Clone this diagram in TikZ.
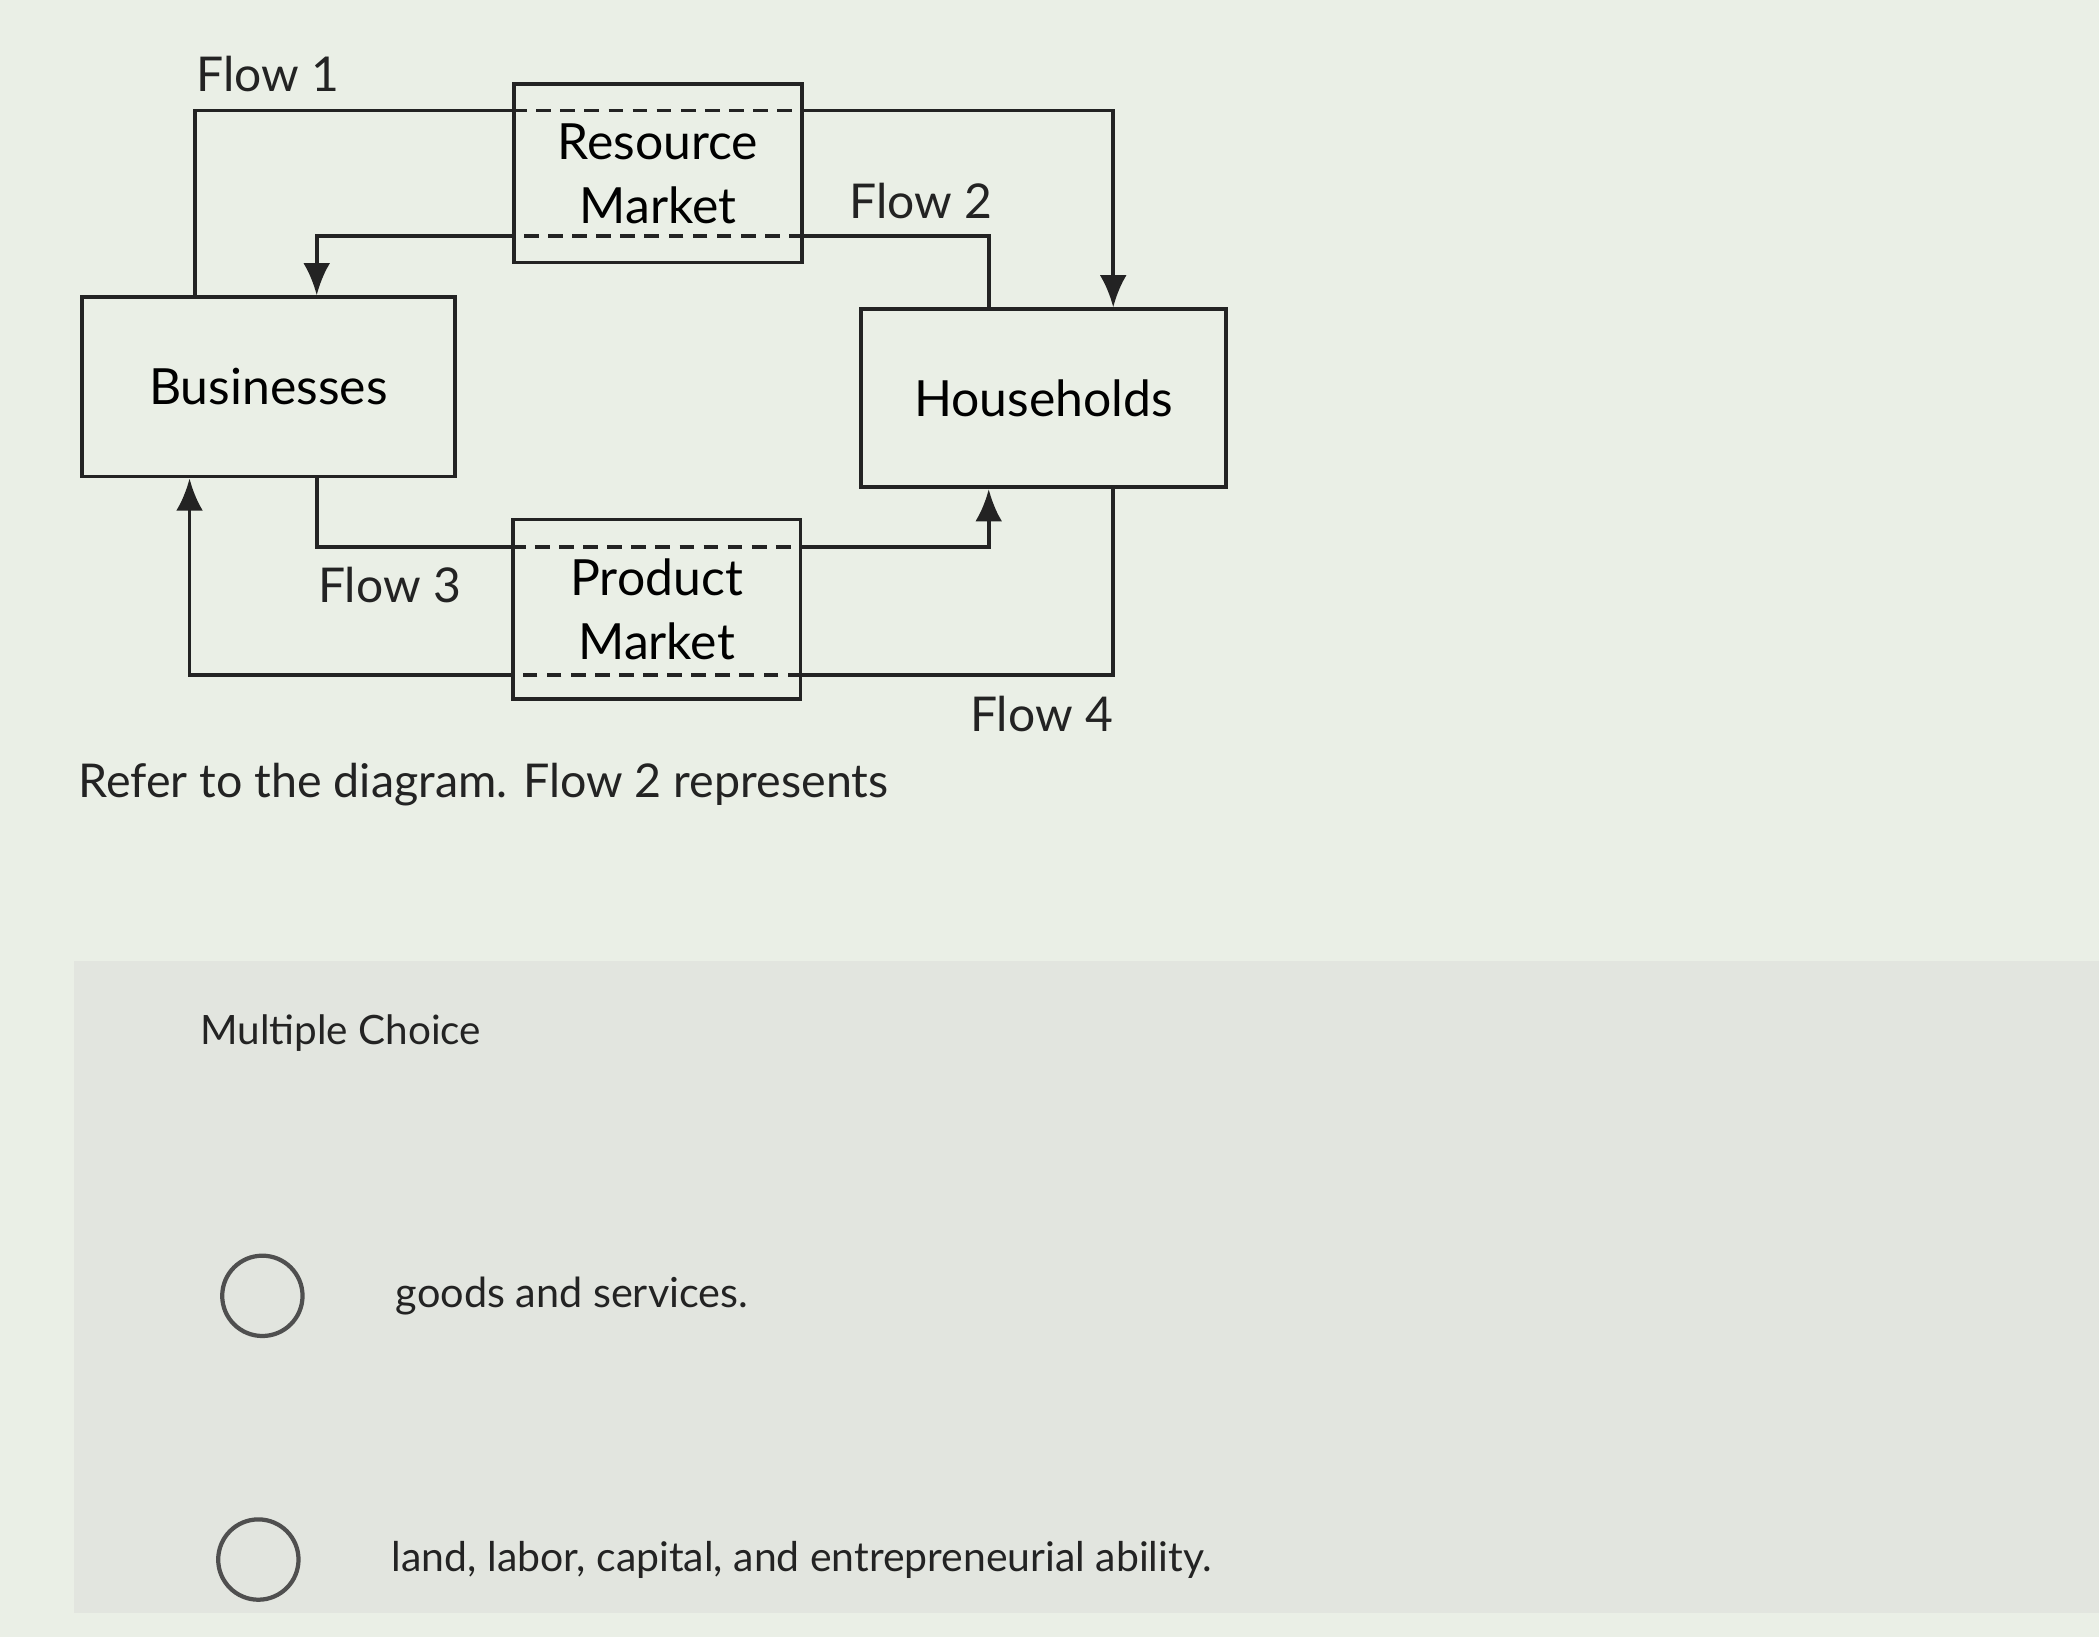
\documentclass[tikz,border=0pt]{standalone}
\usepackage{fontspec}
\setmainfont{Lato}
\usetikzlibrary{arrows,arrows.meta}
\usetikzlibrary{calc}
\definecolor{screen}{RGB}{234,239,230}
\definecolor{panel}{RGB}{226,229,223}
\definecolor{ink}{RGB}{35,35,35}

\tikzset{
    box/.style={draw=ink, line width=0.8pt, fill=none, font=\fontsize{10.6}{12.6}\selectfont, align=center},
    flow/.style={draw=ink, line width=0.8pt},
    flowarrow/.style={flow, -{Latex[length=2.4mm,width=2mm]}},
    inside/.style={draw=ink, line width=0.8pt, dash pattern=on 1.1mm off 0.7mm},
    flowlabel/.style={font=\fontsize{10.2}{12}\selectfont, text=ink},
    radio/.style={circle, draw=ink!80, line width=0.9pt, minimum size=0.6cm, inner sep=0pt},
    plain/.style={anchor=west, inner sep=0pt, text=ink}
}

\begin{document}
\begin{tikzpicture}

    % screen
    \fill[screen] (0,0) rectangle (15.68,-12.23);
    \fill[panel] (0.55,-7.18) rectangle (15.68,-12.05);
    \useasboundingbox (0,0) rectangle (15.68,-12.23);

    % the four boxes
    \node[box, minimum width=2.79cm, minimum height=1.34cm] (bus) at (2.005,-2.89) {Businesses};
    \node[box, minimum width=2.73cm, minimum height=1.33cm] (hh) at (7.795,-2.975) {Households};
    \node[box, minimum width=2.15cm, minimum height=1.33cm] (rm) at (4.915,-1.295) {Resource\\[1pt]Market};
    \node[box, minimum width=2.15cm, minimum height=1.34cm] (pm) at (4.905,-4.55) {Product\\[1pt]Market};

    % flow 1
    \draw[flow] ([xshift=0.86cm]bus.north west) |- ([yshift=-0.21cm]rm.north west);
    \draw[inside] ([yshift=-0.21cm]rm.north west) -- ([yshift=-0.21cm]rm.north east);
    \draw[flowarrow] ([yshift=-0.21cm]rm.north east) -| ([xshift=1.9cm]hh.north west);
    % flow 2
    \draw[flow] ([xshift=0.97cm]hh.north west) |- ([yshift=0.21cm]rm.south east);
    \draw[inside] ([yshift=0.21cm]rm.south east) -- ([yshift=0.21cm]rm.south west);
    \draw[flowarrow] ([yshift=0.21cm]rm.south west) -| ([xshift=1.77cm]bus.north west);
    % flow 3
    \draw[flow] ([xshift=1.77cm]bus.south west) |- ([yshift=-0.22cm]pm.north west);
    \draw[inside] ([yshift=-0.22cm]pm.north west) -- ([yshift=-0.22cm]pm.north east);
    \draw[flowarrow] ([yshift=-0.22cm]pm.north east) -| ([xshift=0.97cm]hh.south west);
    % flow 4
    \draw[flow] ([xshift=1.9cm]hh.south west) |- ([yshift=0.19cm]pm.south east);
    \draw[inside] ([yshift=0.19cm]pm.south east) -- ([yshift=0.19cm]pm.south west);
    \draw[flowarrow] ([yshift=0.19cm]pm.south west) -| ([xshift=0.82cm]bus.south west);

    \node[flowlabel] (f1) at (2.0,-0.55) {Flow 1};
    \node[flowlabel] (f2) at (6.88,-1.5) {Flow 2};
    \node[flowlabel] (f3) at (2.91,-4.37) {Flow 3};
    \node[flowlabel] (f4) at (7.78,-5.33) {Flow 4};

    % question
    \node[plain, font=\fontsize{9.9}{12}\selectfont] (q) at (0.58,-5.86) {Refer to the diagram. Flow 2 represents};
    \node[plain, font=\fontsize{8.6}{10}\selectfont] (mc) at (1.49,-7.72) {Multiple Choice};

    \node[radio] (r1) at (1.96,-9.68) {};
    \node[plain, font=\fontsize{8.8}{10}\selectfont] (a1) at (2.95,-9.68) {goods and services.};
    \node[radio] (r2) at (1.93,-11.65) {};
    \node[plain, font=\fontsize{8.7}{10}\selectfont] (a2) at (2.92,-11.65) {land, labor, capital, and entrepreneurial ability.};

\end{tikzpicture}
\end{document}
